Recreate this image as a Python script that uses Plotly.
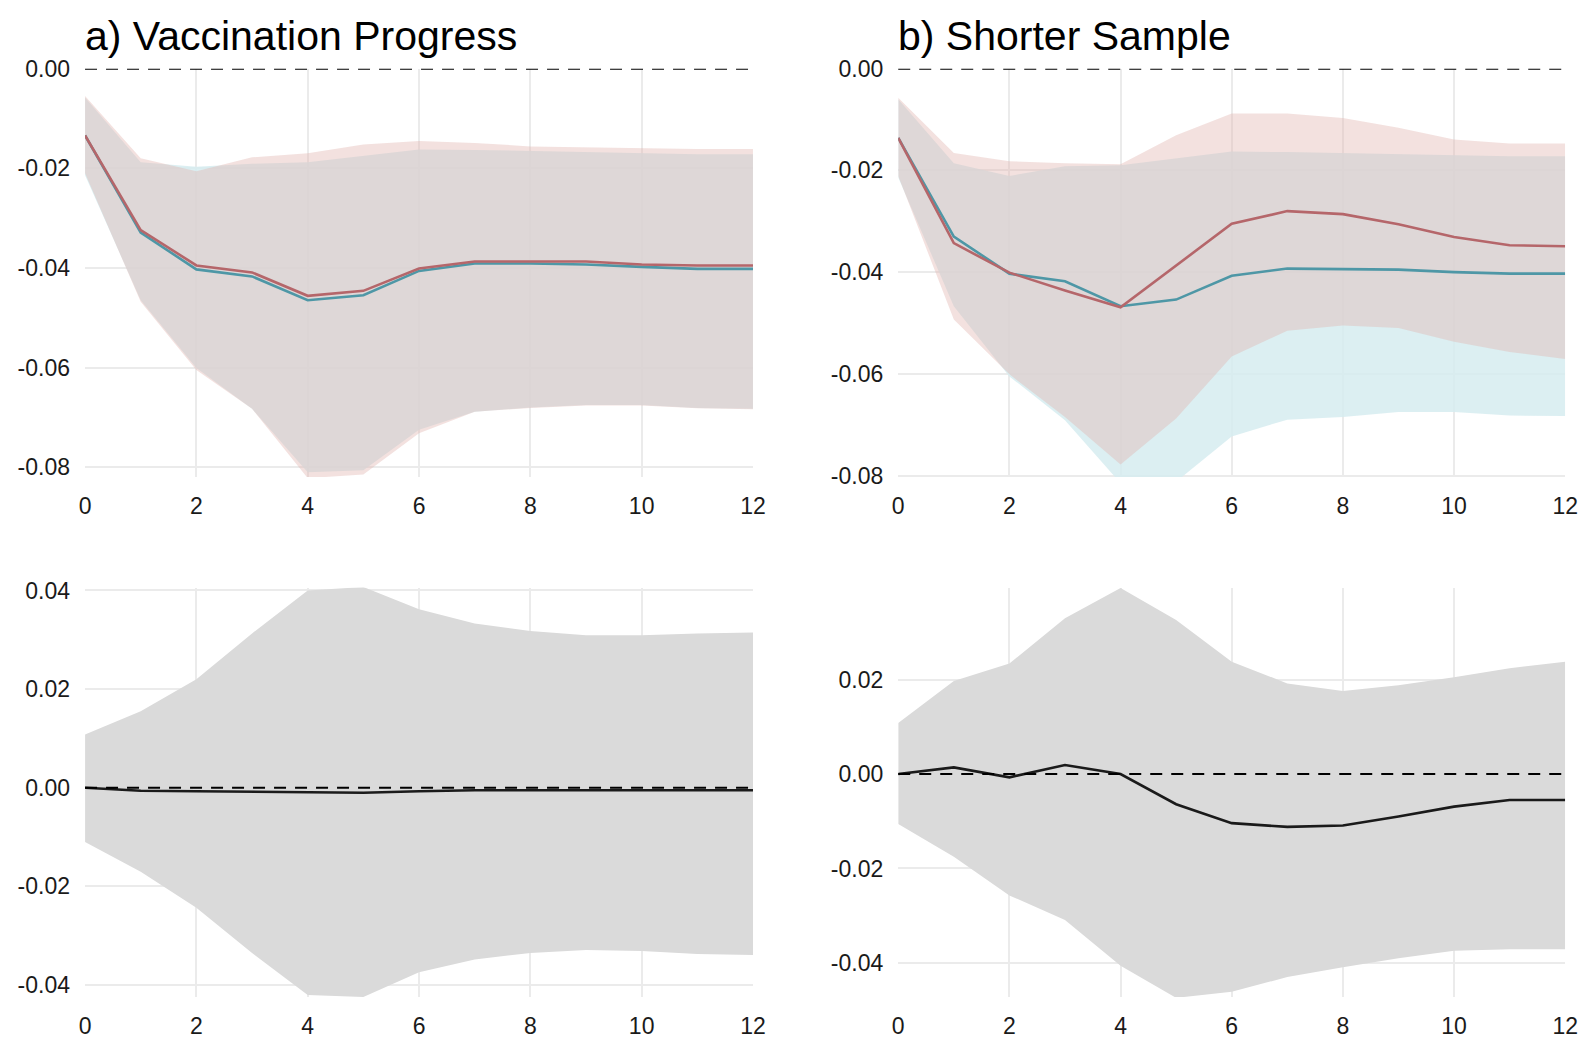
import plotly.graph_objects as go

# ---------------- data ----------------
horizon = [0, 1, 2, 3, 4, 5, 6, 7, 8, 9, 10, 11, 12]

# Panel a) Vaccination Progress (top)
a_red_mean  = [-0.0134, -0.0324, -0.0395, -0.0409, -0.0456, -0.0446, -0.0401, -0.0387, -0.0387, -0.0387, -0.0393, -0.0395, -0.0395]
a_red_up    = [-0.0055, -0.0180, -0.0206, -0.0178, -0.0170, -0.0152, -0.0145, -0.0149, -0.0156, -0.0158, -0.0160, -0.0161, -0.0161]
a_red_lo    = [-0.0210, -0.0468, -0.0605, -0.0683, -0.0822, -0.0815, -0.0732, -0.0689, -0.0681, -0.0676, -0.0676, -0.0682, -0.0684]
a_blue_mean = [-0.0134, -0.0329, -0.0403, -0.0417, -0.0465, -0.0455, -0.0406, -0.0391, -0.0391, -0.0393, -0.0398, -0.0402, -0.0402]
a_blue_up   = [-0.0058, -0.0188, -0.0197, -0.0191, -0.0188, -0.0175, -0.0162, -0.0163, -0.0165, -0.0167, -0.0170, -0.0172, -0.0172]
a_blue_lo   = [-0.0214, -0.0465, -0.0601, -0.0683, -0.0810, -0.0806, -0.0725, -0.0689, -0.0680, -0.0675, -0.0675, -0.0681, -0.0683]

# Panel b) Shorter Sample (top)
b_red_mean  = [-0.0136, -0.0343, -0.0401, -0.0436, -0.0469, -0.0387, -0.0305, -0.0280, -0.0286, -0.0306, -0.0331, -0.0347, -0.0349]
b_red_up    = [-0.0057, -0.0166, -0.0182, -0.0186, -0.0188, -0.0131, -0.0088, -0.0088, -0.0097, -0.0116, -0.0139, -0.0147, -0.0147]
b_red_lo    = [-0.0211, -0.0493, -0.0601, -0.0685, -0.0778, -0.0688, -0.0566, -0.0515, -0.0505, -0.0510, -0.0537, -0.0557, -0.0571]
b_blue_mean = [-0.0136, -0.0330, -0.0403, -0.0418, -0.0467, -0.0454, -0.0407, -0.0393, -0.0394, -0.0395, -0.0400, -0.0403, -0.0403]
b_blue_up   = [-0.0060, -0.0186, -0.0211, -0.0192, -0.0190, -0.0176, -0.0163, -0.0164, -0.0166, -0.0168, -0.0170, -0.0172, -0.0172]
b_blue_lo   = [-0.0214, -0.0467, -0.0605, -0.0691, -0.0815, -0.0812, -0.0723, -0.0690, -0.0685, -0.0675, -0.0675, -0.0682, -0.0683]

# Bottom panels (difference)
c_mean = [0.0000, -0.0006, -0.0007, -0.0008, -0.0010, -0.0010, -0.0007, -0.0005, -0.0005, -0.0005, -0.0005, -0.0005, -0.0005]
c_up   = [0.0108, 0.0155, 0.0220, 0.0313, 0.0400, 0.0407, 0.0362, 0.0333, 0.0318, 0.0309, 0.0309, 0.0313, 0.0315]
c_lo   = [-0.0110, -0.0170, -0.0243, -0.0335, -0.0420, -0.0424, -0.0374, -0.0348, -0.0335, -0.0329, -0.0331, -0.0337, -0.0339]

d_mean = [0.0000, 0.0014, -0.0007, 0.0019, 0.0000, -0.0064, -0.0104, -0.0112, -0.0109, -0.0090, -0.0069, -0.0055, -0.0055]
d_up   = [0.0108, 0.0197, 0.0234, 0.0330, 0.0394, 0.0326, 0.0238, 0.0192, 0.0176, 0.0188, 0.0205, 0.0224, 0.0238]
d_lo   = [-0.0106, -0.0175, -0.0257, -0.0309, -0.0406, -0.0474, -0.0461, -0.0430, -0.0409, -0.0390, -0.0374, -0.0371, -0.0371]

titles = ["a) Vaccination Progress", "b) Shorter Sample"]
x_ticks = [0, 2, 4, 6, 8, 10, 12]
top_ytick_vals = [0.0, -0.02, -0.04, -0.06, -0.08]
top_ytick_text = ["0.00", "-0.02", "-0.04", "-0.06", "-0.08"]
bot_ytick_vals = [0.04, 0.02, 0.0, -0.02, -0.04]
bot_ytick_text = ["0.04", "0.02", "0.00", "-0.02", "-0.04"]

# ---------------- styles ----------------
RED_LINE = "#B5666A"
BLUE_LINE = "#4E97A6"
RED_FILL = "rgba(225,180,175,0.4)"
BLUE_FILL = "rgba(214,236,240,0.85)"
GRAY_FILL = "rgba(218,218,218,1)"
GRID = "#EBEBEB"
FONT = "Liberation Sans, Arial, sans-serif"

W, H = 1594, 1047
def px_x(p): return p / W
def px_y(p): return 1 - p / H

fig = go.Figure()

def band(xa, ya, up, lo, fill):
    fig.add_trace(go.Scatter(x=horizon, y=up, mode="lines", line=dict(width=0, color=fill),
                             xaxis=xa, yaxis=ya, showlegend=False, hoverinfo="skip"))
    fig.add_trace(go.Scatter(x=horizon, y=lo, mode="lines", line=dict(width=0, color=fill),
                             fill="tonexty", fillcolor=fill,
                             xaxis=xa, yaxis=ya, showlegend=False, hoverinfo="skip"))

def line(xa, ya, vals, color):
    fig.add_trace(go.Scatter(x=horizon, y=vals, mode="lines", line=dict(width=2.6, color=color),
                             xaxis=xa, yaxis=ya, showlegend=False, hoverinfo="skip"))

# top-left
band("x", "y", a_blue_up, a_blue_lo, BLUE_FILL)
band("x", "y", a_red_up, a_red_lo, RED_FILL)
line("x", "y", a_blue_mean, BLUE_LINE)
line("x", "y", a_red_mean, RED_LINE)
# top-right
band("x2", "y2", b_blue_up, b_blue_lo, BLUE_FILL)
band("x2", "y2", b_red_up, b_red_lo, RED_FILL)
line("x2", "y2", b_blue_mean, BLUE_LINE)
line("x2", "y2", b_red_mean, RED_LINE)
# bottom-left
band("x3", "y3", c_up, c_lo, GRAY_FILL)
line("x3", "y3", c_mean, "#1a1a1a")
# bottom-right
band("x4", "y4", d_up, d_lo, GRAY_FILL)
line("x4", "y4", d_mean, "#1a1a1a")

left_dom = [px_x(80), px_x(756)]
right_dom = [px_x(903), px_x(1578)]
top_dom = [px_y(475), px_y(57)]
bot_dom = [px_y(1007), px_y(588)]

tickfont = dict(family=FONT, size=23, color="#1a1a1a")

def xaxis(dom, anchor):
    return dict(domain=dom, anchor=anchor, range=[0, 12], tickvals=x_ticks,
                showgrid=True, gridcolor=GRID, gridwidth=2, zeroline=False,
                showline=False, ticks="", tickfont=tickfont, ticklabelstandoff=13,
                fixedrange=True)

def yaxis(dom, anchor, rng, vals, text):
    return dict(domain=dom, anchor=anchor, range=rng, tickvals=vals, ticktext=text,
                showgrid=True, gridcolor=GRID, gridwidth=2, zeroline=False,
                showline=False, ticks="", tickfont=tickfont, ticklabelstandoff=14,
                fixedrange=True)

fig.update_layout(
    width=W, height=H,
    margin=dict(l=0, r=0, t=0, b=0),
    paper_bgcolor="white", plot_bgcolor="white",
    font=dict(family=FONT),
    hovermode=False,
    xaxis=xaxis(left_dom, "y"),
    yaxis=yaxis(top_dom, "x", [-0.0820, 0.0], top_ytick_vals, top_ytick_text),
    xaxis2=xaxis(right_dom, "y2"),
    yaxis2=yaxis(top_dom, "x2", [-0.0803, 0.0], top_ytick_vals, top_ytick_text),
    xaxis3=xaxis(left_dom, "y3"),
    yaxis3=yaxis(bot_dom, "x3", [-0.0424, 0.0406], bot_ytick_vals, bot_ytick_text),
    xaxis4=xaxis(right_dom, "y4"),
    yaxis4=yaxis(bot_dom, "x4", [-0.0472, 0.0395], bot_ytick_vals, bot_ytick_text),
)

# dashed zero reference lines
for xr, yr in [("x", "y"), ("x2", "y2"), ("x3", "y3"), ("x4", "y4")]:
    fig.add_shape(type="line", xref=f"{xr} domain", yref=yr, x0=0, x1=1, y0=0, y1=0,
                  line=dict(color="black", width=2, dash="12px,9px"), layer="above")

# panel titles
for t, dom in zip(titles, [left_dom, right_dom]):
    fig.add_annotation(text=t, xref="paper", yref="paper", x=dom[0] - 2 / W, y=px_y(24),
                       xanchor="left", yanchor="middle", showarrow=False,
                       font=dict(family=FONT, size=41, color="black"))

fig.write_html("out.html", config={"displayModeBar": False},
               post_script="document.body.style.margin='0px';")
